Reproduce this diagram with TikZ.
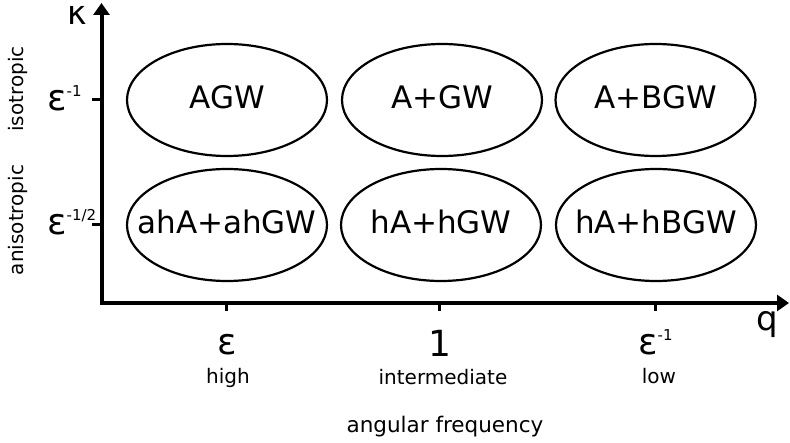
\documentclass[tikz,border=0pt]{standalone}
\usepackage{fontspec}
\setmainfont{DejaVu Sans}
\usetikzlibrary{shapes.geometric,arrows.meta}
\tikzstyle{axis} = [draw, line width=4pt, {Triangle[length=12pt,width=16pt]}-{Triangle[length=12pt,width=16pt]}]
\tikzstyle{tick} = [draw, line width=3pt]
\tikzstyle{regime} = [draw, ellipse, line width=2.2pt, minimum width=200pt, minimum height=112pt, inner sep=0pt, text height=23pt, text depth=5pt, font=\fontsize{31}{36}\selectfont]
\tikzstyle{scalelabel} = [font=\fontsize{36}{40}\selectfont, inner sep=0pt, anchor=base]
\tikzstyle{word} = [font=\fontsize{20}{23}\selectfont, inner sep=0pt, anchor=base]
\newcommand{\epspow}[1]{ε\raisebox{14pt}{\fontsize{15}{15}\selectfont #1}}
\newcommand{\slim}[1]{\hbox to 0pt{\hss #1\hss}}

\begin{document}
\begin{tikzpicture}[x=1pt, y=-1pt]
            \useasboundingbox (0,0) rectangle (790,443);
                \coordinate (origin) at (101.5,303);
                \coordinate (ktop) at (101.5,3);
                \coordinate (qend) at (789,303);
                \path [axis] (ktop) -- (origin) -- (qend);
                \path [tick] (101.5,100) -- (92,100);
                \path [tick] (101.5,225) -- (92,225);
                \foreach \x in {226,439,655}
                    \path [tick] (\x,303) -- (\x,311);
                \node [regime] (agw) at (227,100) {\slim{AGW}};
                \node [regime] (apgw) at (442,100) {\slim{A+GW}};
                \node [regime] (apbgw) at (655.5,100) {\slim{A+BGW}};
                \node [regime] (ahapahgw) at (227,225) {\slim{ahA+ahGW}};
                \node [regime] (haphgw) at (441,225) {\slim{hA+hGW}};
                \node [regime] (haphbgw) at (656,225) {\slim{hA+hBGW}};
                \node [scalelabel, font=\fontsize{33}{36}\selectfont] (kappa) at (77,25) {κ};
                \node [scalelabel, anchor=base west] (kiso) at (47,111) {\epspow{-1}};
                \node [scalelabel, anchor=base west] (kaniso) at (47,235) {\epspow{-1/2}};
                \node [scalelabel, font=\fontsize{34}{38}\selectfont] (qname) at (767,331) {q};
                \node [scalelabel] (qhigh) at (227,355) {ε};
                \node [scalelabel] (qmid) at (440,357) {1};
                \node [scalelabel, anchor=base west] (qlow) at (638,355) {\epspow{-1}};
                \node [word] (high) at (228,384) {high};
                \node [word] (intermediate) at (443,385) {intermediate};
                \node [word] (low) at (659,384) {low};
                \node [word, font=\fontsize{21.5}{24}\selectfont] (freq) at (445,433) {angular frequency};
                \node [word, rotate=90, anchor=center] (iso) at (18,89) {isotropic};
                \node [word, rotate=90, anchor=center] (aniso) at (18,220) {anisotropic};
            \end{tikzpicture}
\end{document}
